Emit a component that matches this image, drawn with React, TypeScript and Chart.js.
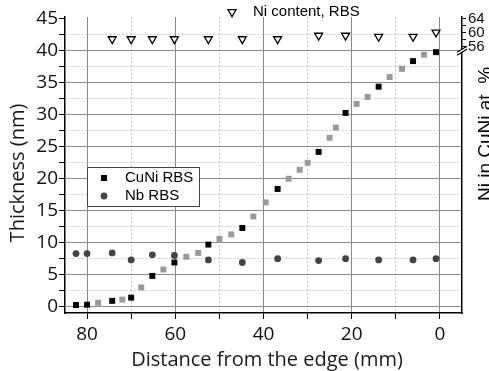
import { useEffect, useRef } from 'react';
import { Chart, registerables } from 'chart.js';

Chart.register(...registerables);

// ---- data ----
const cuNiDistance = [82.5, 80, 74.3, 70, 65.2, 60.2, 52.5, 44.8, 36.8, 27.5, 21.4, 13.9, 6.1, 0.9];
const cuNiThickness = [0.25, 0.3, 0.9, 1.4, 4.8, 6.9, 9.7, 12.3, 18.4, 24.2, 30.3, 34.4, 38.4, 39.8];

const interpDistance = [77.5, 72, 67.7, 62.7, 57.5, 54.8, 50, 47.3, 42.3, 39.5, 34.3, 31.8, 30, 25, 23.6, 18.9, 16.4, 11.4, 8.6, 3.6];
const interpThickness = [0.6, 1.1, 3.0, 5.8, 7.8, 8.4, 10.6, 11.3, 14.1, 16.3, 20.0, 21.4, 22.5, 26.4, 28.0, 31.7, 32.8, 35.9, 37.2, 39.4];

const nbDistance = [82.5, 80, 74.3, 70, 65.2, 60.2, 52.5, 44.8, 36.8, 27.5, 21.4, 13.9, 6.1, 0.9];
const nbThickness = [8.3, 8.3, 8.4, 7.3, 8.1, 8.0, 7.3, 6.9, 7.5, 7.2, 7.5, 7.3, 7.3, 7.5];

const niDistance = [74.3, 70, 65.2, 60.2, 52.5, 44.8, 36.8, 27.5, 21.4, 13.9, 6.1, 0.9];
const niContent = [58.2, 58.2, 58.2, 58.2, 58.2, 58.2, 58.2, 59.2, 59.2, 58.9, 58.9, 60.1];

const xTicks = [80, 70, 60, 50, 40, 30, 20, 10, 0];
const xLabelTicks = [80, 60, 40, 20, 0];
const yTicks = [0, 2.5, 5, 7.5, 10, 12.5, 15, 17.5, 20, 22.5, 25, 27.5, 30, 32.5, 35, 37.5, 40, 42.5, 45];
const y2Ticks = [56, 58, 60, 62, 64];
const y2LabelTicks = [56, 60, 64];
const breakValue = 55.3;

const SANS = "'Open Sans', 'DejaVu Sans', sans-serif";
const ARIAL = "'Liberation Sans', Arial, sans-serif";

const MAJOR = '#8a8a8a';
const MINOR = '#c4c4c4';

const decor = {
  id: 'decor',
  afterDraw(chart: any) {
    const { ctx, chartArea: a, scales } = chart;
    ctx.save();

    // axis break on right axis
    const by = scales.y2.getPixelForValue(breakValue);
    const bx = a.right;
    ctx.fillStyle = '#fff';
    ctx.beginPath();
    ctx.moveTo(bx - 5, by + 3);
    ctx.lineTo(bx + 5, by - 3);
    ctx.lineTo(bx + 5, by);
    ctx.lineTo(bx - 5, by + 6);
    ctx.closePath();
    ctx.fill();
    ctx.strokeStyle = '#000';
    ctx.lineWidth = 1.2;
    ctx.beginPath();
    ctx.moveTo(bx - 5, by + 3);
    ctx.lineTo(bx + 5, by - 3);
    ctx.moveTo(bx - 5, by + 6);
    ctx.lineTo(bx + 5, by);
    ctx.stroke();

    // top legend: Ni content, RBS
    const tx = a.left + 167;
    const ty = 12;
    const r = 4.6;
    ctx.beginPath();
    ctx.moveTo(tx, ty + r);
    ctx.lineTo(tx - r * 0.866, ty - r / 2);
    ctx.lineTo(tx + r * 0.866, ty - r / 2);
    ctx.closePath();
    ctx.fillStyle = '#fff';
    ctx.fill();
    ctx.strokeStyle = '#000';
    ctx.lineWidth = 1.3;
    ctx.stroke();
    ctx.fillStyle = '#000';
    ctx.font = `15px ${ARIAL}`;
    ctx.textAlign = 'left';
    ctx.textBaseline = 'middle';
    ctx.fillText('Ni content, RBS', a.left + 188, ty);

    // inner legend box
    const lx = a.left + 22;
    const ly = 167;
    ctx.fillStyle = '#fff';
    ctx.fillRect(lx, ly, 112, 39);
    ctx.strokeStyle = '#444';
    ctx.lineWidth = 1;
    ctx.strokeRect(lx + 0.5, ly + 0.5, 112, 39);
    ctx.fillStyle = '#000';
    ctx.fillRect(lx + 14, ly + 8, 6, 6);
    ctx.fillStyle = '#444';
    ctx.beginPath();
    ctx.arc(lx + 17, ly + 29, 3.4, 0, Math.PI * 2);
    ctx.fill();
    ctx.fillStyle = '#000';
    ctx.font = `15px ${ARIAL}`;
    ctx.fillText('CuNi RBS', lx + 38, ly + 11);
    ctx.fillText('Nb RBS', lx + 38, ly + 29);

    // axis titles
    ctx.fillStyle = '#1a1a1a';
    ctx.font = `20px ${SANS}`;
    ctx.textAlign = 'center';
    ctx.textBaseline = 'middle';
    ctx.save();
    ctx.translate(18, 173);
    ctx.rotate(-Math.PI / 2);
    ctx.fillText('Thickness (nm)', 0, 0);
    ctx.restore();

    ctx.fillText('Distance from the edge (mm)', 267, 360);

    ctx.save();
    ctx.fillStyle = '#000';
    ctx.font = `19px ${ARIAL}`;
    ctx.textBaseline = 'alphabetic';
    ctx.translate(491, 134);
    ctx.rotate(-Math.PI / 2);
    ctx.fillText('Ni in CuNi at. %', 0, 0);
    ctx.restore();

    ctx.restore();
  },
};

export default function App() {
  const ref = useRef<HTMLCanvasElement | null>(null);

  useEffect(() => {
    document.body.style.margin = '0';
    const canvas = ref.current;
    if (!canvas) return;

    const toPts = (xs: number[], ys: number[]) => xs.map((x, i) => ({ x, y: ys[i] }));

    const chart = new Chart(canvas, {
      type: 'scatter',
      data: {
        datasets: [
          {
            label: 'CuNi RBS',
            data: toPts(cuNiDistance, cuNiThickness),
            pointStyle: 'rect',
            pointRadius: 4.2,
            backgroundColor: '#000',
            borderColor: '#000',
            borderWidth: 0,
            yAxisID: 'y',
          },
          {
            label: 'CuNi interpolated',
            data: toPts(interpDistance, interpThickness),
            pointStyle: 'rect',
            pointRadius: 4.2,
            backgroundColor: '#999',
            borderColor: '#999',
            borderWidth: 0,
            yAxisID: 'y',
          },
          {
            label: 'Nb RBS',
            data: toPts(nbDistance, nbThickness),
            pointStyle: 'circle',
            pointRadius: 3.4,
            backgroundColor: '#444',
            borderColor: '#444',
            borderWidth: 0,
            yAxisID: 'y',
          },
          {
            label: 'Ni content, RBS',
            data: toPts(niDistance, niContent),
            pointStyle: 'triangle',
            rotation: 180,
            pointRadius: 4.6,
            backgroundColor: '#fff',
            borderColor: '#000',
            borderWidth: 1.3,
            yAxisID: 'y2',
          },
        ],
      },
      options: {
        responsive: false,
        animation: false,
        devicePixelRatio: 1,
        layout: { padding: { top: 17, left: 0, right: 0, bottom: 0 } },
        plugins: {
          legend: { display: false },
          tooltip: { enabled: false },
          title: { display: false },
        },
        scales: {
          x: {
            type: 'linear',
            reverse: true,
            min: -5,
            max: 85,
            afterBuildTicks: (s: any) => {
              s.ticks = xTicks.map((v) => ({ value: v }));
            },
            afterFit: (s: any) => {
              s.height = 58;
              s.paddingLeft = 0;
              s.paddingRight = 0;
            },
            ticks: {
              autoSkip: false,
              maxRotation: 0,
              padding: 4,
              color: '#111',
              font: { family: SANS, size: 19 },
              callback: (v: any) => (xLabelTicks.includes(Number(v)) ? String(v) : ''),
            },
            grid: {
              color: (c: any) => (c.tick && c.tick.value % 20 === 0 ? MAJOR : MINOR),
              tickColor: '#000',
              tickLength: 6,
              lineWidth: 1,
            },
            border: {
              display: true,
              color: '#000',
              width: 1.5,
              dash: (c: any) => (c.tick && c.tick.value % 20 !== 0 ? [2, 2] : []),
            },
          },
          y: {
            type: 'linear',
            position: 'left',
            min: -1,
            max: 45.3,
            afterBuildTicks: (s: any) => {
              s.ticks = yTicks.map((v) => ({ value: v }));
            },
            afterFit: (s: any) => {
              s.width = 65;
            },
            ticks: {
              autoSkip: false,
              padding: 1,
              color: '#111',
              font: { family: SANS, size: 19 },
              callback: (v: any) => (Number(v) % 5 === 0 ? String(v) : ''),
            },
            grid: {
              color: (c: any) => {
                if (!c.tick) return MAJOR;
                if (c.tick.value === 45) return 'rgba(0,0,0,0)';
                return c.tick.value % 5 === 0 ? MAJOR : MINOR;
              },
              tickColor: '#000',
              tickLength: 6,
              lineWidth: 1,
            },
            border: {
              display: true,
              color: '#000',
              width: 1.5,
              dash: (c: any) => (c.tick && c.tick.value % 5 !== 0 ? [2, 2] : []),
            },
          },
          y2: {
            type: 'linear',
            position: 'right',
            min: 64.5 - 296 / 3.5,
            max: 64.5,
            afterBuildTicks: (s: any) => {
              s.ticks = y2Ticks.map((v) => ({ value: v }));
            },
            afterFit: (s: any) => {
              s.width = 27;
            },
            ticks: {
              autoSkip: false,
              padding: 2,
              color: '#111',
              font: { family: ARIAL, size: 15 },
              callback: (v: any) => (y2LabelTicks.includes(Number(v)) ? String(v) : ''),
            },
            grid: {
              drawOnChartArea: false,
              tickColor: '#000',
              tickLength: 4,
            },
            border: { display: true, color: '#000', width: 1.5 },
          },
        },
      },
      plugins: [decor],
    } as any);

    return () => chart.destroy();
  }, []);

  return (
    <div style={{ width: 489, height: 371 }}>
      <canvas ref={ref} width={489} height={371} style={{ display: 'block', width: 489, height: 371 }} />
    </div>
  );
}
